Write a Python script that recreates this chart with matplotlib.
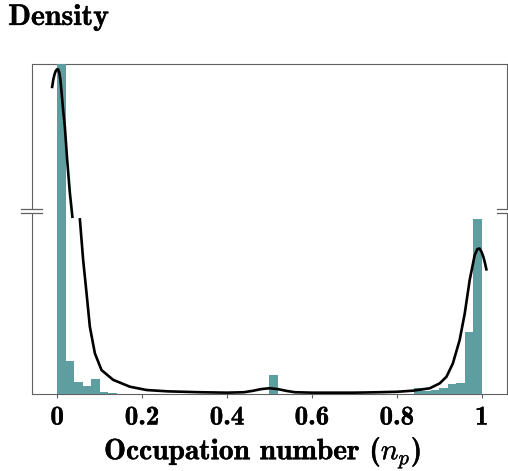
"""Histogram of occupation numbers with a density curve on a broken y axis."""

import numpy as np
import matplotlib.pyplot as plt
import matplotlib.patheffects as pe
from matplotlib.patches import Rectangle

plt.rcParams["font.family"] = "cmb10"
plt.rcParams["mathtext.fontset"] = "cm"

# Histogram (density per bin of width 0.02, bins from 0 to 1)
bin_width = 0.02
bin_left = np.arange(50) * bin_width
hist_density = [
    41.6, 0.75, 0.27, 0.18, 0.34, 0.05, 0.02, 0.01, 0, 0,
    0, 0, 0, 0, 0, 0, 0, 0, 0, 0,
    0, 0, 0, 0, 0, 0.43, 0, 0, 0, 0,
    0, 0, 0, 0, 0, 0, 0, 0, 0, 0,
    0, 0, 0.13, 0.07, 0.09, 0.14, 0.23, 0.26, 1.41, 3.95,
]

# Density curve
curve_x = [
    -0.0118, -0.009, -0.006, -0.003, 0.0, 0.0025, 0.005, 0.0075, 0.0104,
    0.014, 0.0181, 0.0235, 0.0299, 0.0358, 0.0535, 0.0612, 0.0692, 0.077,
    0.0888, 0.1045, 0.1319, 0.1712, 0.2105, 0.26, 0.336, 0.40, 0.44, 0.46,
    0.48, 0.50, 0.52, 0.54, 0.56, 0.60, 0.70, 0.76, 0.80, 0.838, 0.8776,
    0.901, 0.917, 0.932, 0.948, 0.960, 0.9717, 0.9834, 0.9899, 0.995,
    0.9993, 1.004, 1.007, 1.011,
]
curve_y = [
    21.6, 22.4, 22.95, 23.3, 23.45, 23.42, 23.1, 22.4, 21.0,
    19.2, 17.4, 14.0, 10.5, 8.0, 3.95, 3.03, 2.28, 1.52,
    0.92, 0.54, 0.32, 0.165, 0.09, 0.06, 0.04, 0.03, 0.04, 0.07,
    0.11, 0.13, 0.11, 0.07, 0.04, 0.03, 0.03, 0.04, 0.05, 0.075, 0.129,
    0.24, 0.39, 0.69, 1.22, 1.82, 2.58, 3.14, 3.28, 3.29,
    3.22, 3.1, 2.99, 2.82,
]

# Broken axis: values between low_break and high_break are squeezed out
low_break, high_break = 4.0, 8.0
y_max = 24.0
gap = 0.01
top_ratio = 0.216


def forward(y):
    y = np.asarray(y, dtype=float)
    mid = low_break + (y - low_break) / (high_break - low_break) * gap
    top = low_break + gap + (y - high_break) * top_ratio
    return np.where(y <= low_break, y, np.where(y <= high_break, mid, top))


def inverse(s):
    s = np.asarray(s, dtype=float)
    mid = low_break + (s - low_break) / gap * (high_break - low_break)
    top = high_break + (s - low_break - gap) / top_ratio
    return np.where(s <= low_break, s,
                    np.where(s <= low_break + gap, mid, top))


def split_at_break(xs, ys):
    """Insert a NaN wherever the curve jumps across the break."""
    out_x, out_y = [xs[0]], [ys[0]]
    for i in range(1, len(xs)):
        above_prev = ys[i - 1] >= high_break
        above_now = ys[i] >= high_break
        if above_prev != above_now:
            out_x.append(np.nan)
            out_y.append(np.nan)
        out_x.append(xs[i])
        out_y.append(ys[i])
    return out_x, out_y


spine_color = "#606060"
bold = [pe.withStroke(linewidth=0.25, foreground="black")]

fig = plt.figure(figsize=(5.08, 4.71), dpi=100)
ax = fig.add_axes([0.0624, 0.1635, 0.936, 0.7006])
ax.set_yscale("function", functions=(forward, inverse))

ax.bar(bin_left, hist_density, width=bin_width, align="edge",
       color="#5f9ea0", linewidth=0, zorder=3)

px, py = split_at_break(curve_x, curve_y)
ax.plot(px, py, color="black", linewidth=1.9, zorder=4)

ax.set_xlim(-0.06, 1.06)
ax.set_ylim(0, y_max)
ax.set_yticks([])
ax.set_xticks([0, 0.2, 0.4, 0.6, 0.8, 1.0])
ax.set_xticklabels(["0", "0.2", "0.4", "0.6", "0.8", "1"])
ax.tick_params(axis="x", direction="out", length=3, width=0.8,
               color=spine_color, pad=6, labelsize=19.5)
for lbl in ax.get_xticklabels():
    lbl.set_path_effects(bold)
for spine in ax.spines.values():
    spine.set_color(spine_color)
    spine.set_linewidth(0.8)

# Break marks on the left and right spines
for x0, x1 in [(-0.023, 0.021), (0.978, 1.03)]:
    xs = 0.0 if x0 < 0 else 1.0
    ax.add_patch(Rectangle((xs - 0.004, 0.547), 0.008, 0.014,
                           transform=ax.transAxes, facecolor="white",
                           edgecolor="none", clip_on=False, zorder=5))
    for yb in (0.547, 0.561):
        ax.plot([x0, x1], [yb, yb], transform=ax.transAxes,
                color=spine_color, linewidth=0.9, clip_on=False, zorder=6)

fig.text(0.016, 0.947, "Density", fontsize=21.5, va="baseline", ha="left",
         path_effects=bold)
fig.text(0.517, 0.025, r"Occupation number ($n_p$)", fontsize=21.2,
         va="baseline", ha="center", path_effects=bold)

fig.savefig("out.png", dpi=100)
